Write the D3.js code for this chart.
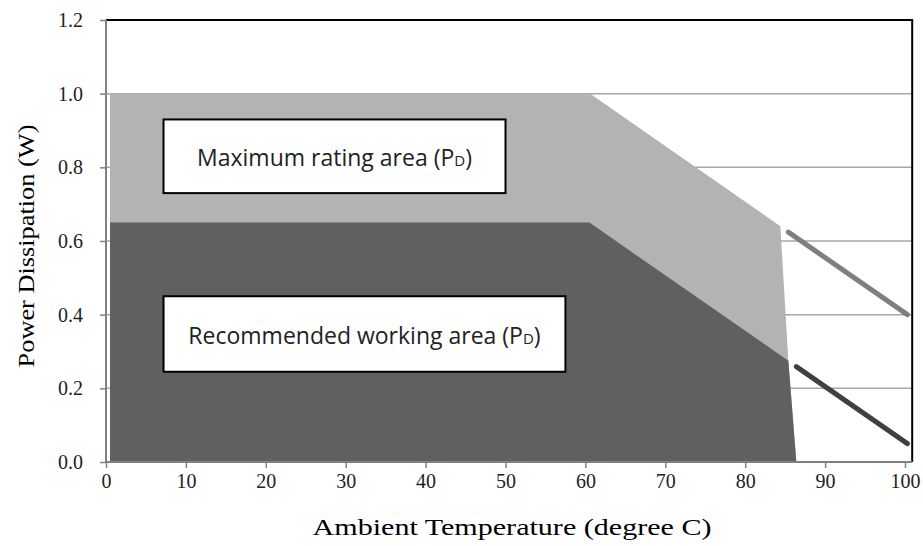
<!DOCTYPE html>
<html><head><meta charset="utf-8">
<script src="https://cdn.jsdelivr.net/npm/d3@7"></script>
<style>html,body{margin:0;padding:0;background:#fff;}</style>
</head><body>
<svg id="c" width="923" height="546"></svg>
<script>
const xTicks = [0,10,20,30,40,50,60,70,80,90,100];
const yTicks = [0.0,0.2,0.4,0.6,0.8,1.0,1.2];
const maxAreaX = [0.5, 60.6, 84.4, 85.4, 86.4];
const maxAreaY = [1.0, 1.0, 0.64, 0.275, 0.0];
const recAreaX = [0.5, 60.5, 85.4, 86.4];
const recAreaY = [0.65, 0.65, 0.275, 0.0];
const maxLineX = [85.4, 100.3];
const maxLineY = [0.624, 0.40];
const recLineX = [86.4, 100.3];
const recLineY = [0.259, 0.05];
const labels = [
  {main:"Maximum rating area (P", sub:"D", x0:7.2, x1:50.0, y0:0.93, y1:0.73},
  {main:"Recommended working area (P", sub:"D", x0:7.2, x1:57.5, y0:0.45, y1:0.245}
];
const xTitle = "Ambient Temperature (degree C)";
const yTitle = "Power Dissipation (W)";

const svg = d3.select("#c");
const x = d3.scaleLinear().domain([0,100]).range([106,905]);
const y = d3.scaleLinear().domain([0,1.2]).range([462,20]);
const xMax = 100.9;

// gridlines
svg.append("g").selectAll("line").data(yTicks.filter(d=>d>0)).join("line")
  .attr("x1",x(0)).attr("x2",x(xMax)).attr("y1",d=>y(d)).attr("y2",d=>y(d))
  .attr("stroke","#a6a6a6").attr("stroke-width",1.5);

const area = d3.area().x(d=>x(d[0])).y0(y(0)).y1(d=>y(d[1]));
svg.append("path").datum(maxAreaX.map((v,i)=>[v,maxAreaY[i]]))
  .attr("d",area).attr("fill","#b3b3b3");
svg.append("path").datum(recAreaX.map((v,i)=>[v,recAreaY[i]]))
  .attr("d",area).attr("fill","#606060");

const line = d3.line().x(d=>x(d[0])).y(d=>y(d[1]));
svg.append("path").datum(maxLineX.map((v,i)=>[v,maxLineY[i]]))
  .attr("d",line).attr("fill","none").attr("stroke","#7f7f7f").attr("stroke-width",5).attr("stroke-linecap","round");
svg.append("path").datum(recLineX.map((v,i)=>[v,recLineY[i]]))
  .attr("d",line).attr("fill","none").attr("stroke","#404040").attr("stroke-width",5).attr("stroke-linecap","round");

// borders
svg.append("line").attr("x1",x(0)).attr("x2",x(xMax)+1).attr("y1",y(1.2)).attr("y2",y(1.2)).attr("stroke","#000").attr("stroke-width",2);
svg.append("line").attr("x1",x(xMax)).attr("x2",x(xMax)).attr("y1",y(1.2)).attr("y2",y(0)).attr("stroke","#000").attr("stroke-width",2);

// axes
const xAxis = svg.append("g").attr("transform",`translate(0,${y(0)})`)
  .call(d3.axisBottom(x).tickValues(xTicks).tickSize(6).tickPadding(6).tickFormat(d3.format("d")));
xAxis.select(".domain").attr("d",`M${x(0)},0H${x(xMax)}`);
const yAxis = svg.append("g").attr("transform",`translate(${x(0)},0)`)
  .call(d3.axisLeft(y).tickValues(yTicks).tickSize(6).tickPadding(17).tickFormat(d3.format(".1f")));
yAxis.select(".domain").attr("d",`M0,${y(1.2)}V${y(0)}`);
[xAxis,yAxis].forEach(a=>{
  a.selectAll(".domain").attr("stroke","#808080").attr("stroke-width",2);
  a.selectAll(".tick line").attr("stroke","#808080").attr("stroke-width",1.5);
  a.selectAll("text").attr("font-family","Liberation Serif, Times New Roman, serif").attr("font-size",20).attr("fill","#222");
});

// label boxes
labels.forEach(l=>{
  const bx = x(l.x0), by = y(l.y0), bw = x(l.x1)-x(l.x0), bh = y(l.y1)-y(l.y0);
  svg.append("rect").attr("x",bx).attr("y",by).attr("width",bw).attr("height",bh)
    .attr("fill","#fff").attr("stroke","#000").attr("stroke-width",2);
  const t = svg.append("text").attr("x",bx+bw/2).attr("y",by+bh/2+10).attr("text-anchor","middle")
    .attr("font-family","Open Sans, Noto Sans, sans-serif").attr("font-size",23).attr("fill","#222");
  t.append("tspan").text(l.main);
  t.append("tspan").attr("font-size",15).text(l.sub);
  t.append("tspan").text(")");
});

// axis titles (stretched horizontally to match the wide serif of the original)
function stretchedTitle(txt, cx, cy, rot, target){
  const g = svg.append("g").attr("transform",`translate(${cx},${cy}) rotate(${rot})`);
  const t = g.append("text").attr("text-anchor","middle")
    .attr("font-family","Liberation Serif, Times New Roman, serif").attr("font-size",23).attr("fill","#000")
    .text(txt);
  const w = t.node().getComputedTextLength();
  t.attr("transform",`scale(${target/w},1)`);
}
stretchedTitle(xTitle, 512, 535, 0, 399);
stretchedTitle(yTitle, 34, 246, -90, 243);
</script>
</body></html>
